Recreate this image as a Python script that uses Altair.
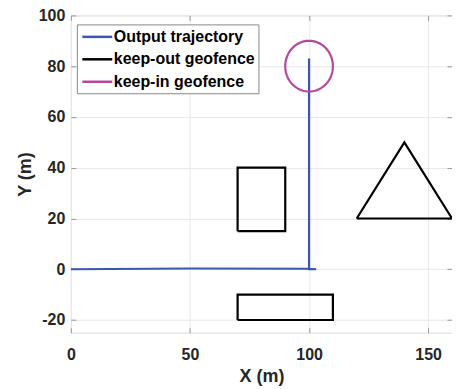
import altair as alt
import pandas as pd

# Output trajectory
traj_x = [0, 50, 100, 103, 100, 100]
traj_y = [0, 0.3, 0.2, 0, 0, 83]

# keep-out geofences (closed polygons)
rect1_x = [70, 90, 90, 70, 70]
rect1_y = [15, 15, 40, 40, 15]
rect2_x = [70, 110, 110, 70, 70]
rect2_y = [-20, -20, -10, -10, -20]
tri_x = [120, 160, 140, 120]
tri_y = [20, 20, 50, 20]

# keep-in geofence (circle)
circle_cx = 100
circle_cy = 80
circle_r = 10

series_names = ["Output trajectory", "keep-out geofence", "keep-in geofence"]
series_colors = ["#3a56b5", "#000000", "#b5479f"]

x_ticks = [0, 50, 100, 150]
y_ticks = [-20, 0, 20, 40, 60, 80, 100]

rows = []
def add(xs, ys, series, shape):
    for i, (a, b) in enumerate(zip(xs, ys)):
        rows.append(dict(x=a, y=b, series=series, shape=shape, order=i))

add(traj_x, traj_y, "Output trajectory", "traj")
add(rect1_x, rect1_y, "keep-out geofence", "rect1")
add(rect2_x, rect2_y, "keep-out geofence", "rect2")
add(tri_x, tri_y, "keep-out geofence", "tri")
df = pd.DataFrame(rows)

W, H = 382, 318
xs = alt.Scale(domain=[0, 160], nice=False, zero=False)
ys = alt.Scale(domain=[-25, 100], nice=False, zero=False)

font = "Liberation Sans"
lab = dict(labelFont=font, labelFontSize=16, labelFontWeight="bold", labelColor="#262626",
           titleFont=font, titleFontSize=18, titleFontWeight="bold", titleColor="#262626",
           labelFlush=False)

x_main = alt.X("x:Q", scale=xs, axis=alt.Axis(values=x_ticks, title="X (m)", domain=False,
               tickSize=0, labelPadding=14, titlePadding=5, gridColor="#e8e8e8", **lab))
y_main = alt.Y("y:Q", scale=ys, axis=alt.Axis(values=y_ticks, title="Y (m)", domain=False,
               tickSize=0, labelPadding=6, titlePadding=4, gridColor="#e8e8e8",
               labelExpr="datum.value", **lab))

color = alt.Color("series:N", scale=alt.Scale(domain=series_names, range=series_colors),
                  legend=alt.Legend(orient="none", legendX=6, legendY=9, title=None,
                                    symbolType="M-1.875,0H1.875", symbolSize=256, symbolStrokeWidth=2.5,
                                    symbolOffset=8,
                                    labelFont=font, labelFontSize=16, labelFontWeight="bold",
                                    labelColor="#000000", labelOffset=7,
                                    strokeColor="#888888", fillColor="white",
                                    padding=3, rowPadding=4.5, labelLimit=300))

lines = alt.Chart(df).mark_line(strokeWidth=2.2).encode(
    x=x_main, y=y_main, color=color, detail="shape:N", order="order:Q")

circle = alt.Chart(alt.sequence(0, 361, 3, as_="a")).transform_calculate(
    x=f"{circle_cx} + {circle_r} * cos(datum.a * PI / 180)",
    y=f"{circle_cy} + {circle_r} * sin(datum.a * PI / 180)",
    series="'keep-in geofence'",
).mark_line(strokeWidth=2.2).encode(
    x=alt.X("x:Q", scale=xs, axis=None),
    y=alt.Y("y:Q", scale=ys, axis=None),
    color=alt.Color("series:N", scale=alt.Scale(domain=series_names, range=series_colors)),
    order="a:Q")

tick_ax = dict(domain=False, grid=False, labels=False, title=None, tickSize=5, tickColor="#999999", tickWidth=1)
ticks_bl = alt.Chart(df).mark_point(opacity=0).encode(
    x=alt.X("x:Q", scale=xs, axis=alt.Axis(values=x_ticks, orient="bottom", offset=-5, **tick_ax)),
    y=alt.Y("y:Q", scale=ys, axis=alt.Axis(values=y_ticks, orient="left", offset=-5, **tick_ax)))
ticks_tr = alt.Chart(df).mark_point(opacity=0).encode(
    x=alt.X("x:Q", scale=xs, axis=alt.Axis(values=x_ticks, orient="top", offset=-5, **tick_ax)),
    y=alt.Y("y:Q", scale=ys, axis=alt.Axis(values=y_ticks, orient="right", offset=-5, **tick_ax)))

chart = alt.layer(lines, circle, ticks_bl, ticks_tr).resolve_axis(x="independent", y="independent").properties(
    width=W, height=H,
    autosize=alt.AutoSizeParams(type="none"),
    padding={"left": 63, "top": 7, "right": 0, "bottom": 56},
).configure_view(stroke="#999999", strokeWidth=1).configure(background="white")

chart.save("out.html", embed_options={"renderer": "svg", "actions": False})
